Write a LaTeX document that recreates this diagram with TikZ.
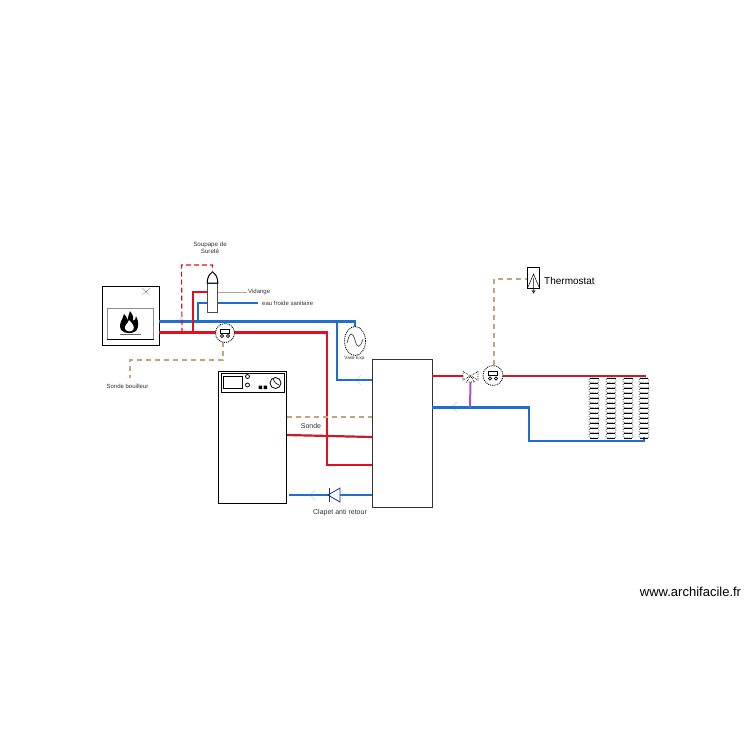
\documentclass[tikz,border=0pt]{standalone}
\usepackage{fontspec}
\usetikzlibrary{shapes.geometric}
\setmainfont{Liberation Sans}
\definecolor{hotred}{HTML}{E2101E}
\definecolor{darkred}{HTML}{C41E2C}
\definecolor{coldblue}{HTML}{1D6FD2}
\definecolor{sondetan}{HTML}{C4A478}
\definecolor{valvenavy}{HTML}{1A2FA0}
\definecolor{mixpurple}{HTML}{AA50D2}
\tikzset{
    box/.style={draw=#1,line width=1pt,inner sep=0pt,fill=white},
    box/.default=black,
    redpipe/.style={hotred,line width=2.2pt},
    bluepipe/.style={coldblue,line width=2.2pt},
    sondeline/.style={sondetan,line width=1.2pt,dash pattern=on 5pt off 4pt},
    tiny/.style={font=\fontsize{6}{7}\selectfont,text=black!80,inner sep=0pt},
    roundicon/.style={circle,draw,densely dotted,line width=.9pt,fill=white,inner sep=0pt,minimum size=#1},
    pumpface/.pic={
        \draw[line width=.7pt] (-4.5,-4) rectangle (4.5,0);
        \draw[line width=.7pt] (-3,3) circle (1.6) (3,3) circle (1.6);
    }
}
\begin{document}
\begin{tikzpicture}[x=1pt,y=-1pt]
    \useasboundingbox[fill=white] (0,0) rectangle (750,750);
    % pipes
    \coordinate (stoveB) at (159,321.5);
    \coordinate (stoveR) at (159,332.5);
    \coordinate (vaseT) at (355,327);
    \coordinate (tankB) at (372,380);
    \coordinate (tankR) at (372,465);
    \coordinate (tankS) at (372,417);
    \coordinate (tankC) at (372,437);
    \coordinate (tankV) at (372,495);
    \coordinate (tankO) at (432,376);
    \coordinate (tankI) at (432,407.5);
    \coordinate (boilS) at (287,417);
    \coordinate (boilC) at (287,435);
    \coordinate (boilV) at (289,495);
    \coordinate (radT) at (646,376);
    \coordinate (radB) at (644,437);
    \coordinate (mixT) at (470,407.5);
    \coordinate (splitB) at (337,321.5);
    \coordinate (splitC) at (198,321.5);
    \coordinate (splitR) at (193,332.5);
    \coordinate (splitD) at (182,332.5);
    % faint flow arrows
    \foreach \x/\y/\d in {170/332/1,327/372/0,350/437/1,350/465/1,440/376/1,519/376/1}{
        \draw[hotred!22,line width=1pt] (\x-5*\d,\y-5+5*\d) -- (\x,\y) -- (\x-5*\d,\y+5-5*\d);
    }
    \foreach \x/\y in {178/321,356/380,310/495,452/407}{
        \draw[coldblue!22,line width=1pt] (\x+5,\y-5) -- (\x,\y) -- (\x+5,\y+5);
    }
    % stove
    \node[box,minimum width=57pt,minimum height=59pt] (stove) at (130.5,315.5) {};
    \node[box=black!45,minimum width=46pt,minimum height=31pt] (firebox) at (130,323.5) {};
    \draw[line width=1pt] (firebox.south west) -- (firebox.south east);
    \draw[black,densely dotted,line width=.5pt] (142,288) -- (150,295) (150,288) -- (142,295);
    \fill (121,330) .. controls (118,322) and (123,320) .. (124,314) .. controls (127,317) and (127,319) .. (128,320)
        .. controls (128,316) and (129,314) .. (130,311) .. controls (133,315) and (134,318) .. (133,321)
        .. controls (135,320) and (136,319) .. (136,316) .. controls (139,322) and (139,327) .. (136,331)
        .. controls (132,334) and (125,334) .. (121,330) -- cycle;
    \fill[white] (125,329) .. controls (124,325) and (128,324) .. (129,320) .. controls (133,324) and (135,327) .. (133,330)
        .. controls (131,332) and (127,332) .. (125,329) -- cycle;
    \draw[black!60,line width=.6pt] (120,334) -- (141,334);
    % boiler
    \node[box,minimum width=68.5pt,minimum height=132pt] (boiler) at (252.5,437) {};
    \node[box,minimum width=63pt,minimum height=19pt] (panel) at (252.5,382.5) {};
    \node[box,minimum width=19pt,minimum height=12pt] (screen) at (232.5,382) {};
    \draw[line width=.8pt] (247.5,376.5) circle (2) (247.5,385) circle (2);
    \fill (258.5,385.5) rectangle (262,389) (263.5,385.5) rectangle (267,389);
    \node[circle,draw,line width=.8pt,minimum size=11pt,inner sep=0pt] (gauge) at (275.5,383) {};
    \draw[line width=.6pt] (gauge.center) -- (273,379) (gauge.center) -- (279,385);
    % tank
    \node[box=black!80,minimum width=60pt,minimum height=148pt] (tank) at (402,433) {};
    % soupape
    \coordinate (soupT) at (212.5,273);
    \coordinate (soupR) at (207,292);
    \coordinate (soupG) at (218,292);
    \coordinate (soupB) at (218,303);
    \coordinate (soupC) at (207,303);
    \node[box=black!70,minimum width=10.5pt,minimum height=29pt] (soupape) at (212.5,297.5) {};
    \draw[line width=1pt,fill=white] (207.2,283) .. controls (207.2,277) and (209.5,274) .. (212.5,272) .. controls (215.5,274) and (217.8,277) .. (217.8,283) -- cycle;
    % red and blue lines
    \draw[bluepipe] (stoveB) -- (355,321.5) -- (vaseT);
    \draw[bluepipe] (splitB) -- (337,380) -- (tankB);
    \draw[coldblue,line width=1.2pt] (splitC) -- (198,303) -- (soupC);
    \draw[coldblue,line width=1.2pt] (soupB) -- (258,303);
    \draw[black!35,line width=1pt] (soupG) -- (247,292);
    \draw[hotred,line width=1.2pt] (splitR) -- (193,292) -- (soupR);
    \draw[hotred,line width=1.2pt,dash pattern=on 5pt off 3pt] (splitD) -- (181.5,265) -- (212.5,265) -- (soupT);
    \draw[redpipe] (stoveR) -- (218,332.5);
    \draw[redpipe] (234,332.5) -- (327,332.5) -- (327,465) -- (tankR);
    \draw[darkred,line width=2.2pt] (boilC) -- (tankC);
    \draw[bluepipe] (boilV) -- (tankV);
    \draw[sondeline] (boilS) -- (tankS);
    \draw[sondeline] (223,342) -- (223,360) -- (130,360) -- (130,378);
    \draw[redpipe] (tankO) -- (464,376);
    \draw[bluepipe] (tankI) -- (529,407.5) -- (529,441) -- (644,441) -- (radB);
    \draw[darkred,line width=2.2pt] (503,376) -- (radT);
    \draw[sondeline] (494,365) -- (494,279) -- (527.5,279);
    % circulators
    \node[roundicon=19pt] (pumpA) at (225,333) {};
    \pic at (pumpA) {pumpface};
    \node[roundicon=20pt] (pumpB) at (493,375.5) {};
    \pic at (pumpB) {pumpface};
    % vase
    \node[ellipse,draw,densely dotted,line width=.9pt,inner sep=0pt,minimum width=21pt,minimum height=29pt,fill=white] (vase) at (355,341) {};
    \draw[line width=.6pt,black!80] (347,343) .. controls (350,330) and (353,333) .. (355,340) .. controls (357,348) and (360,349) .. (363,339);
    \node[tiny,font=\fontsize{4.7}{5.5}\selectfont] (vaselabel) at (355,358.5) {Vase Exp.};
    % clapet
    \node[draw=valvenavy,isosceles triangle,isosceles triangle apex angle=60,shape border rotate=180,inner sep=0pt,line width=.8pt,minimum height=12pt,minimum width=14pt,fill=white] (clapet) at (336,495) {};
    \draw[valvenavy,line width=.8pt] (329.5,488) -- (329.5,502);
    % vanne
    \coordinate (vanne) at (470.5,382);
    \draw[mixpurple,line width=2pt] (vanne) -- (mixT);
    \draw[densely dotted,line width=.7pt,fill=white] (463,371.5) -- (478,380) -- (478,371.5) -- (463,380) -- cycle;
    \draw[densely dotted,line width=.7pt,fill=white] (470.5,376) -- (466.5,382) -- (474.5,382) -- cycle;
    % thermostat
    \node[box,minimum width=12pt,minimum height=21pt] (thermostat) at (533.5,277.5) {};
    \draw[line width=.5pt] (528,287) -- (533.5,274) -- (539,287) (533.5,278) -- (533.5,292);
    \draw[line width=.5pt] (531.8,290) -- (533.5,293) -- (535.2,290);
    % radiators
    \foreach \rx/\heavy in {594/{0,4,6,8,9,11},611/{0},628/{0},644/{1,2}}{
        \foreach \i in {0,...,11}{
            \draw[black!70,line width=.7pt,rounded corners=1.5pt,densely dotted] (\rx-5,378+\i*5) rectangle (\rx+5,383+\i*5);
            \draw[black,line width=.7pt] (\rx-4,378+\i*5) -- (\rx+4,378+\i*5) (\rx-4,383+\i*5) -- (\rx+4,383+\i*5);
        }
        \foreach \i in \heavy{
            \fill (\rx-4.5,377.5+\i*5) rectangle (\rx+4.5,379+\i*5);
        }
    }
    % labels
    \node[tiny,align=center,font=\fontsize{6.2}{7}\selectfont] (soupelabel) at (210,248) {Soupape de\\Sureté};
    \node[tiny,anchor=west] (vidlabel) at (248,292) {Vidange};
    \node[tiny,anchor=west] (eaulabel) at (262,303) {eau froide sanitaire};
    \node[tiny] (bouillabel) at (127.5,386) {Sonde bouilleur};
    \node[tiny,font=\fontsize{7}{8}\selectfont] (sondelabel) at (311,426) {Sonde};
    \node[tiny,font=\fontsize{7}{8}\selectfont] (clapetlabel) at (340,513) {Clapet anti retour};
    \node[anchor=west,inner sep=0pt,font=\fontsize{10}{12}\selectfont] (thermolabel) at (544,281) {Thermostat};
    \node[inner sep=0pt,font=\fontsize{13}{15}\selectfont] (archi) at (690.5,592) {www.archifacile.fr};
\end{tikzpicture}
\end{document}
